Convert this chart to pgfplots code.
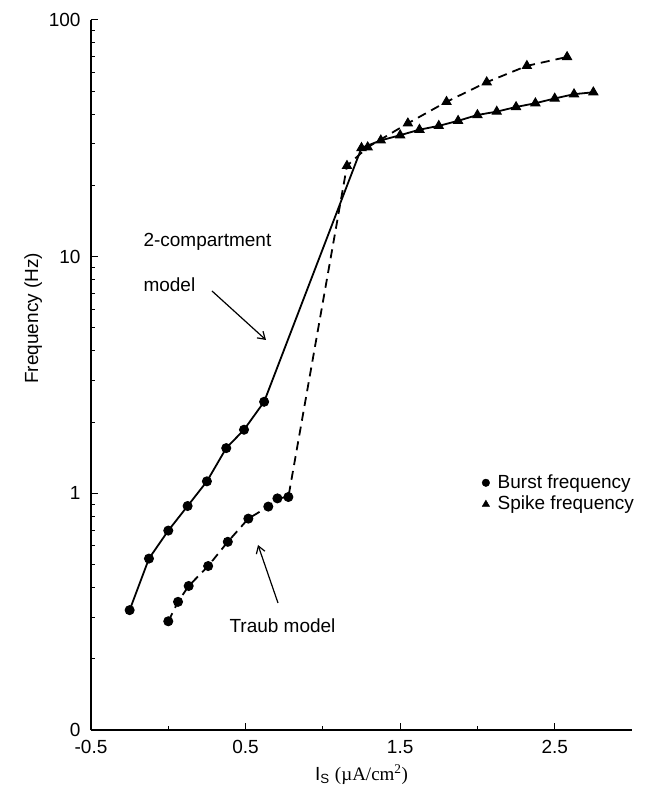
\documentclass[border=0pt]{standalone}
\usepackage{pgfplots}
\usepackage{pgfplotstable}
\pgfplotsset{compat=1.18}
\usetikzlibrary{arrows.meta}
\usepackage{fontspec}
\setmainfont{Liberation Sans}
\newfontfamily\serifu{Liberation Serif}

\pgfplotstableread{
x y t
-0.25 0.321 b
-0.125 0.530 b
0.0 0.696 b
0.125 0.884 b
0.25 1.124 b
0.375 1.553 b
0.49 1.857 b
0.62 2.437 b
1.25 28.8 s
1.375 31.0 s
1.5 32.6 s
1.625 34.4 s
1.75 35.7 s
1.875 37.5 s
2.0 39.7 s
2.125 41.0 s
2.25 42.9 s
2.375 44.5 s
2.5 46.6 s
2.625 48.6 s
2.75 49.5 s
}\compdata

\pgfplotstableread{
x y t
0.0 0.288 b
0.063 0.348 b
0.132 0.406 b
0.258 0.493 b
0.385 0.624 b
0.518 0.782 b
0.647 0.879 b
0.706 0.952 b
0.777 0.965 b
1.156 24.2 s
1.29 29.0 s
1.55 36.6 s
1.80 45.1 s
2.06 54.6 s
2.32 64.0 s
2.58 69.8 s
}\traubdata

\begin{document}
\fontsize{19}{22}\selectfont
\begin{tikzpicture}
\useasboundingbox (-91pt,-57pt) rectangle (556pt,730pt);
\begin{axis}[
  at={(0pt,0pt)}, anchor=south west,
  scale only axis, width=541pt, height=710pt,
  xmin=-0.5, xmax=3, ymin=0.1, ymax=100, ymode=log,
  axis x line=bottom, axis y line=left,
  axis line style={-, line width=1.2pt},
  tick align=inside,
  xtick={-0.5,0.5,1.5,2.5}, xticklabels={-0.5,0.5,1.5,2.5},
  minor xtick={0,1,2},
  ytick={0.1,1,10,100}, yticklabels={0,1,10,100},
  minor ytick={0.2,0.3,0.4,0.5,0.6,0.7,0.8,0.9,2,3,4,5,6,7,8,9,20,30,40,50,60,70,80,90},
  major tick length=7pt, minor tick length=4pt,
  every tick/.style={black, line width=1pt},
  tick label style={font=\fontsize{19}{22}\selectfont},
  xticklabel style={yshift=-4pt},
  yticklabel style={xshift=-4pt},
  label style={font=\fontsize{19}{22}\selectfont},
  ylabel={Frequency (Hz)},
  ylabel style={at={(axis description cs:-0.107,0.58)}, anchor=center},
  xlabel={I\textsubscript{S} {\serifu (µA/cm\textsuperscript{2})}},
  xlabel style={at={(axis description cs:0.5,-0.063)}, anchor=center},
  legend style={draw=none, fill=none, at={(axis description cs:0.717,0.333)}, anchor=west,
    font=\fontsize{19}{22}\selectfont, row sep=1pt,
    /tikz/every odd column/.append style={column sep=6pt}},
  legend cell align=left,
  clip=false,
]
\addplot[black, line width=1.8pt, forget plot,
  scatter, scatter src=explicit symbolic,
  mark options={solid, fill=black, line width=1pt},
  scatter/classes={b={mark=*, mark size=4.5pt, black}, s={mark=triangle*, mark size=5.2pt, black}}]
  table[x=x, y=y, meta=t] {\compdata};
\addplot[black, line width=1.8pt, dash pattern=on 9pt off 6pt, forget plot,
  scatter, scatter src=explicit symbolic,
  mark options={solid, fill=black, line width=1pt},
  scatter/classes={b={mark=*, mark size=4.5pt, black}, s={mark=triangle*, mark size=5.2pt, black}}]
  table[x=x, y=y, meta=t] {\traubdata};
\addlegendimage{only marks, mark=*, mark size=3.8pt, black}
\addlegendentry{Burst frequency}
\addlegendimage{only marks, mark=triangle*, mark size=4.3pt, black}
\addlegendentry{Spike frequency}
\end{axis}
\node[anchor=base west] at (46pt,483pt) {2-compartment};
\node[anchor=base west] at (46pt,438pt) {model};
\draw[-{Straight Barb[length=7pt,width=9pt,line width=1.2pt]}, line width=1.2pt] (121pt,439pt) -- (175pt,390pt);
\node[anchor=base west] at (132pt,97pt) {Traub model};
\draw[-{Straight Barb[length=7pt,width=9pt,line width=1.2pt]}, line width=1.2pt] (187pt,127pt) -- (167pt,185pt);
\end{tikzpicture}
\end{document}
